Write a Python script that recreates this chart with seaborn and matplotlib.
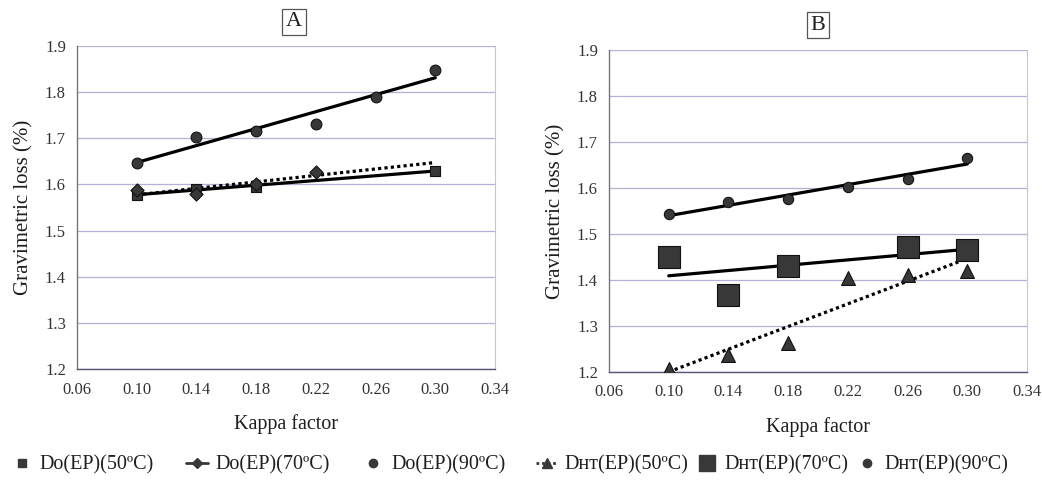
import numpy as np
import pandas as pd
import matplotlib
matplotlib.use("Agg")
import matplotlib.pyplot as plt
from matplotlib.lines import Line2D
import seaborn as sns

# ---------------- data ----------------
kappa_ticks = [0.06, 0.10, 0.14, 0.18, 0.22, 0.26, 0.30, 0.34]
y_ticks = [1.2, 1.3, 1.4, 1.5, 1.6, 1.7, 1.8, 1.9]

# Panel A : Do(EP)
a50_x = [0.10, 0.14, 0.18, 0.30]
a50_y = [1.578, 1.590, 1.595, 1.630]
a70_x = [0.10, 0.14, 0.18, 0.22]
a70_y = [1.587, 1.580, 1.600, 1.627]
a90_x = [0.10, 0.14, 0.18, 0.22, 0.26, 0.30]
a90_y = [1.647, 1.703, 1.716, 1.731, 1.790, 1.849]

# Panel B : DHT(EP)
b50_x = [0.10, 0.14, 0.18, 0.22, 0.26, 0.30]
b50_y = [1.207, 1.237, 1.263, 1.404, 1.410, 1.420]
b70_x = [0.10, 0.14, 0.18, 0.26, 0.30]
b70_y = [1.450, 1.367, 1.430, 1.472, 1.465]
b90_x = [0.10, 0.14, 0.18, 0.22, 0.26, 0.30]
b90_y = [1.543, 1.570, 1.576, 1.602, 1.620, 1.665]

labels_a = ["Do(EP)(50ºC)", "Do(EP)(70ºC)", "Do(EP)(90ºC)"]
labels_b = ["Dʜᴛ(EP)(50ºC)", "Dʜᴛ(EP)(70ºC)", "Dʜᴛ(EP)(90ºC)"]

# ---------------- style ----------------
sns.set_theme(style="white")
plt.rcParams["font.family"] = ["Liberation Serif", "DejaVu Serif"]

fig = plt.figure(figsize=(10.42, 4.82), dpi=100)
axA = fig.add_axes([77 / 1042, 1 - 369 / 482, 418 / 1042, 323 / 482])
axB = fig.add_axes([609 / 1042, 1 - 372 / 482, 418 / 1042, 322 / 482])

MK = "#383838"
grid_col = "#b4b0d6"
TXT = "#1e1e1e"


def trend(ax, xs, ys, ls, x0=0.10, x1=0.30):
    k, b = np.polyfit(xs, ys, 1)
    df = pd.DataFrame({"x": [x0, x1]})
    df["y"] = k * df["x"] + b
    sns.lineplot(data=df, x="x", y="y", ax=ax, color="black", lw=2.3,
                 linestyle=ls, zorder=2, legend=False)


def points(ax, xs, ys, marker, size):
    df = pd.DataFrame({"x": xs, "y": ys})
    sns.scatterplot(data=df, x="x", y="y", ax=ax, marker=marker, s=size,
                    color=MK, edgecolor="#111111", linewidth=0.8, zorder=3,
                    legend=False)


def style_axes(ax):
    ax.set_xlim(0.06, 0.34)
    ax.set_ylim(1.2, 1.9)
    ax.set_xticks(kappa_ticks)
    ax.set_xticklabels([f"{t:.2f}" for t in kappa_ticks])
    ax.set_yticks(y_ticks)
    ax.set_yticklabels([f"{t:.1f}" for t in y_ticks])
    for t in y_ticks:
        ax.axhline(t, color=grid_col, lw=0.9, zorder=0)
    ax.spines["top"].set_visible(False)
    ax.spines["right"].set_visible(True)
    ax.spines["right"].set_color("#c8c8c8")
    ax.spines["right"].set_linewidth(0.8)
    ax.spines["left"].set_color("#777777")
    ax.spines["left"].set_linewidth(1.0)
    ax.spines["bottom"].set_color("#555577")
    ax.spines["bottom"].set_linewidth(1.0)
    ax.tick_params(axis="x", direction="out", length=3, width=0.6,
                   color="#999999", labelsize=12, labelcolor="#333333", pad=6)
    ax.tick_params(axis="y", length=0, labelsize=12, labelcolor="#333333", pad=8)
    ax.set_xlabel("Kappa factor", fontsize=14.5, color=TXT, labelpad=12)
    ax.set_ylabel("Gravimetric loss (%)", fontsize=15, color=TXT, labelpad=8)
    ax.set_facecolor("white")


# Panel A
trend(axA, a90_x, a90_y, "-")
trend(axA, a50_x, a50_y, "-")
trend(axA, a70_x, a70_y, (0, (1, 1)))
points(axA, a50_x, a50_y, "s", 60)
points(axA, a70_x, a70_y, "D", 45)
points(axA, a90_x, a90_y, "o", 60)
style_axes(axA)

# Panel B
trend(axB, b90_x, b90_y, "-")
trend(axB, b70_x, b70_y, "-")
trend(axB, b50_x, b50_y, (0, (1, 1)))
points(axB, b90_x, b90_y, "o", 55)
points(axB, b70_x, b70_y, "s", 230)
points(axB, b50_x, b50_y, "^", 100)
style_axes(axB)

# Panel titles in boxes
box = dict(facecolor="white", edgecolor="#555555", linewidth=0.9, pad=2.5)
fig.text(294 / 1042, 1 - 22 / 482, "A", ha="center", va="center",
         fontsize=16, color=TXT, bbox=box)
fig.text(818 / 1042, 1 - 25 / 482, "B", ha="center", va="center",
         fontsize=16, color=TXT, bbox=box)

# Legends
hA = [
    Line2D([], [], marker="s", color=MK, ls="none", ms=6),
    Line2D([], [], marker="D", color=MK, ls="-", lw=2, ms=5),
    Line2D([], [], marker="o", color=MK, ls="none", ms=6),
]
hB = [
    Line2D([], [], marker="^", color=MK, ls=(0, (1, 1)), lw=2, ms=7),
    Line2D([], [], marker="s", color=MK, ls="none", ms=12),
    Line2D([], [], marker="o", color=MK, ls="none", ms=6),
]
fig.legend(hA, labels_a, loc="center", bbox_to_anchor=(258 / 1042, 1 - 465 / 482),
           ncol=3, frameon=False, fontsize=14.5, handlelength=1.1,
           handletextpad=0.35, columnspacing=1.6, labelcolor=TXT)
fig.legend(hB, labels_b, loc="center", bbox_to_anchor=(772 / 1042, 1 - 465 / 482),
           ncol=3, frameon=False, fontsize=14.5, handlelength=1.1,
           handletextpad=0.3, columnspacing=0.4, labelcolor=TXT)

fig.savefig("out.png", dpi=100, facecolor="white")
